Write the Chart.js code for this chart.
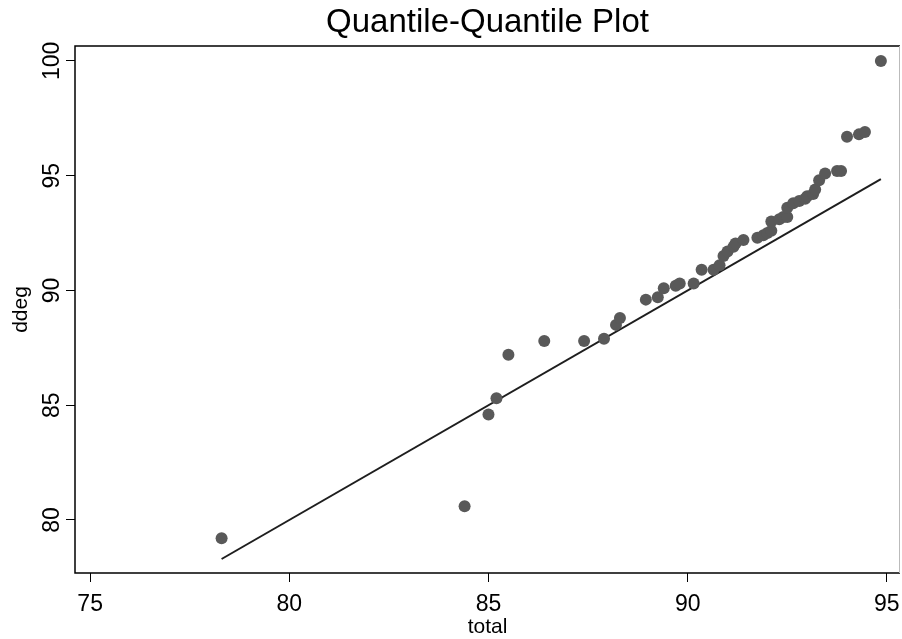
<!DOCTYPE html>
<html lang="en">
<head>
    <meta charset="UTF-8">
    <title>Quantile-Quantile Plot</title>
    <style>
        html, body { margin: 0; padding: 0; background: #fff; }
        #wrap { width: 902px; height: 639px; }
    </style>
</head>
<body>
    <div id="wrap"><canvas id="qq" width="902" height="639"></canvas></div>
    <script src="https://cdn.jsdelivr.net/npm/chart.js@4/dist/chart.umd.min.js"></script>
    <script>
        // sorted quantiles
        var totalQ = [78.3, 84.4, 85.0, 85.2, 85.5, 86.4, 87.4, 87.9, 88.2, 88.3,
            88.95, 89.25, 89.4, 89.7, 89.8, 90.15, 90.35, 90.65, 90.8, 90.9,
            91.0, 91.15, 91.2, 91.4, 91.75, 91.9, 92.0, 92.1, 92.1, 92.3,
            92.4, 92.5, 92.5, 92.65, 92.8, 92.95, 93.0, 93.15, 93.2, 93.3,
            93.45, 93.75, 93.85, 94.0, 94.3, 94.45, 94.85];
        var ddegQ = [79.2, 80.6, 84.6, 85.3, 87.2, 87.8, 87.8, 87.9, 88.5, 88.8,
            89.6, 89.7, 90.1, 90.2, 90.3, 90.3, 90.9, 90.9, 91.1, 91.5,
            91.7, 91.9, 92.05, 92.2, 92.3, 92.4, 92.5, 92.6, 93.0, 93.1,
            93.2, 93.2, 93.6, 93.8, 93.9, 94.0, 94.1, 94.2, 94.4, 94.8,
            95.1, 95.2, 95.2, 96.7, 96.8, 96.9, 100.0];
        // reference line y = x over the range of total
        var lineX = [78.3, 94.85];
        var xTicks = [75, 80, 85, 90, 95];
        var yTicks = [80, 85, 90, 95, 100];

        var pts = totalQ.map(function (v, i) { return { x: v, y: ddegQ[i] }; });
        var linePts = lineX.map(function (v) { return { x: v, y: v }; });

        var FONT = "'Liberation Sans', Arial, sans-serif";

        var textPlugin = {
            id: 'textPlugin',
            afterDraw: function (chart) {
                var ctx = chart.ctx;
                var a = chart.chartArea;
                var xs = chart.scales.x;
                var ys = chart.scales.y;
                ctx.save();
                // frame
                ctx.strokeStyle = '#000';
                ctx.lineWidth = 1.5;
                ctx.beginPath();
                ctx.moveTo(a.right, a.top);
                ctx.lineTo(a.left, a.top);
                ctx.lineTo(a.left, a.bottom);
                ctx.lineTo(a.right, a.bottom);
                ctx.stroke();
                ctx.strokeStyle = '#bbb';
                ctx.lineWidth = 1;
                ctx.beginPath();
                ctx.moveTo(a.right - 0.5, a.top);
                ctx.lineTo(a.right - 0.5, a.bottom);
                ctx.stroke();

                ctx.fillStyle = '#000';
                ctx.textAlign = 'center';
                ctx.textBaseline = 'middle';
                // title
                ctx.font = '33px ' + FONT;
                ctx.fillText('Quantile-Quantile Plot', (a.left + a.right) / 2, 23);
                // x tick labels
                ctx.font = '23px ' + FONT;
                xTicks.forEach(function (t) {
                    ctx.fillText(String(t), xs.getPixelForValue(t), 605);
                });
                // x title
                ctx.font = '21px ' + FONT;
                ctx.fillText('total', (a.left + a.right) / 2, 627);
                // y tick labels, rotated
                ctx.font = '23px ' + FONT;
                yTicks.forEach(function (t) {
                    ctx.save();
                    ctx.translate(53, ys.getPixelForValue(t));
                    ctx.rotate(-Math.PI / 2);
                    ctx.fillText(String(t), 0, 0);
                    ctx.restore();
                });
                // y title
                ctx.save();
                ctx.font = '21px ' + FONT;
                ctx.translate(21, (a.top + a.bottom) / 2);
                ctx.rotate(-Math.PI / 2);
                ctx.fillText('ddeg', 0, 0);
                ctx.restore();
                ctx.restore();
            }
        };

        new Chart(document.getElementById('qq'), {
            type: 'scatter',
            data: {
                datasets: [
                    {
                        type: 'line',
                        data: linePts,
                        borderColor: '#1e1e1e',
                        borderWidth: 2,
                        pointRadius: 0,
                        fill: false,
                        order: 2
                    },
                    {
                        data: pts,
                        backgroundColor: '#595959',
                        borderColor: '#595959',
                        pointRadius: 6,
                        pointBorderWidth: 0,
                        order: 1
                    }
                ]
            },
            options: {
                responsive: false,
                animation: false,
                events: [],
                // no auto padding, so the plot box ends at x=900
                layout: { autoPadding: false, padding: { top: 46, right: 2, left: 0, bottom: 0 } },
                plugins: { legend: { display: false }, tooltip: { enabled: false }, title: { display: false } },
                scales: {
                    x: {
                        type: 'linear',
                        min: 74.62,
                        max: 95.33,
                        afterBuildTicks: function (s) { s.ticks = xTicks.map(function (v) { return { value: v }; }); },
                        afterFit: function (s) { s.height = 66; },
                        border: { display: false },
                        grid: { drawOnChartArea: false, drawTicks: true, tickLength: 9, tickColor: '#000', lineWidth: 1 },
                        ticks: { display: false }
                    },
                    y: {
                        type: 'linear',
                        min: 77.69,
                        max: 100.65,
                        afterBuildTicks: function (s) { s.ticks = yTicks.map(function (v) { return { value: v }; }); },
                        afterFit: function (s) { s.width = 75; },
                        border: { display: false },
                        grid: { drawOnChartArea: false, drawTicks: true, tickLength: 9, tickColor: '#000', lineWidth: 1 },
                        ticks: { display: false }
                    }
                }
            },
            plugins: [textPlugin]
        });
    </script>
</body>
</html>
